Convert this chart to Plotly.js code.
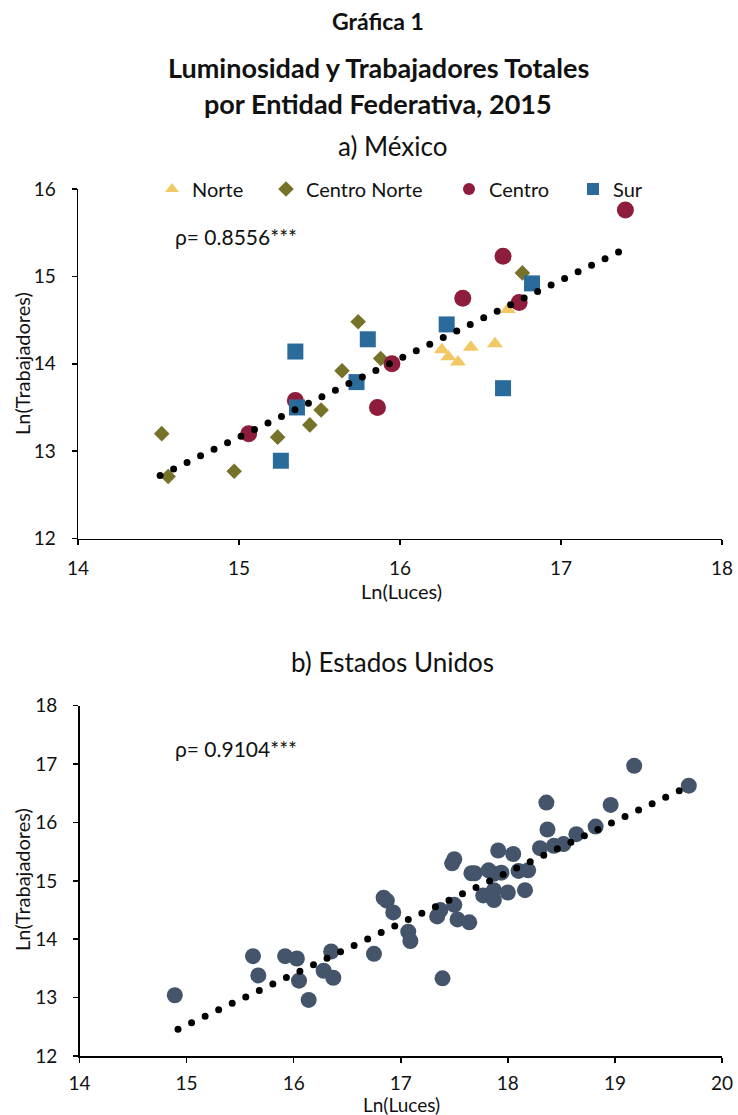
<!DOCTYPE html>
<html>
<head>
<meta charset="utf-8">
<script src="https://cdn.plot.ly/plotly-3.0.1.min.js"></script>
<style>
html,body{margin:0;padding:0;background:#fff;}
#chart{width:738px;height:1115px;}
.js-line{stroke-linecap:round !important;}
</style>
</head>
<body>
<div id="chart"></div>
<script>
// ---- Panel a) México ----
const norteX = [16.26, 16.30, 16.36, 16.44, 16.59, 16.67];
const norteY = [14.16, 14.08, 14.02, 14.19, 14.23, 14.62];

const centroNorteX = [14.52, 14.56, 14.97, 15.24, 15.44, 15.51, 15.64, 15.74, 15.88, 16.76];
const centroNorteY = [13.20, 12.71, 12.77, 13.16, 13.30, 13.47, 13.92, 14.48, 14.06, 15.04];

const centroX = [15.06, 15.35, 15.86, 15.95, 16.39, 16.64, 16.74, 17.40];
const centroY = [13.20, 13.58, 13.50, 14.00, 14.75, 15.23, 14.70, 15.76];

const surX = [15.35, 15.36, 15.26, 15.73, 15.80, 16.29, 16.64, 16.82];
const surY = [14.14, 13.50, 12.89, 13.79, 14.28, 14.45, 13.72, 14.92];

const trendMexX = [14.51, 17.36];
const trendMexY = [12.72, 15.28];

// ---- Panel b) Estados Unidos ----
const usaX = [14.89, 15.62, 15.67, 15.92, 16.03, 16.05, 16.14, 16.28, 16.35, 16.37,
              16.75, 16.84, 16.87, 16.93, 17.07, 17.09, 17.39, 17.34, 17.37, 17.48,
              17.50, 17.50, 17.53, 17.64, 17.66, 17.69, 17.77, 17.82, 17.87, 17.87,
              17.91, 17.94, 18.00, 18.05, 18.10, 18.16, 18.19, 18.30, 18.36, 18.37,
              18.43, 18.52, 18.64, 18.82, 18.96, 19.18, 19.69, 17.87];
const usaY = [13.04, 13.71, 13.38, 13.71, 13.67, 13.29, 12.96, 13.46, 13.79, 13.34,
              13.75, 14.71, 14.66, 14.46, 14.13, 13.97, 13.33, 14.39, 14.50, 15.30,
              15.37, 14.59, 14.34, 14.29, 15.13, 15.13, 14.75, 15.18, 14.84, 14.67,
              15.52, 15.14, 14.80, 15.46, 15.17, 14.84, 15.18, 15.56, 16.34, 15.88,
              15.60, 15.63, 15.80, 15.93, 16.30, 16.97, 16.63, 15.12];

const trendUsaX = [14.92, 19.70];
const trendUsaY = [12.46, 16.63];

const xTicksMex = [14, 15, 16, 17, 18];
const yTicksMex = [12, 13, 14, 15, 16];
const xTicksUsa = [14, 15, 16, 17, 18, 19, 20];
const yTicksUsa = [12, 13, 14, 15, 16, 17, 18];

const FONT = 'Lato, "Open Sans", sans-serif';
const TXT = '#111111';

const traces = [
  {x: norteX, y: norteY, name: 'Norte', type: 'scatter', mode: 'markers',
   xaxis: 'x', yaxis: 'y', legend: 'legend',
   marker: {symbol: 'triangle-up', size: 14, color: '#F2C865'}},
  {x: centroNorteX, y: centroNorteY, name: 'Centro Norte', type: 'scatter', mode: 'markers',
   xaxis: 'x', yaxis: 'y', legend: 'legend2',
   marker: {symbol: 'diamond', size: 12, color: '#77722A'}},
  {x: centroX, y: centroY, name: 'Centro', type: 'scatter', mode: 'markers',
   xaxis: 'x', yaxis: 'y', legend: 'legend3',
   marker: {symbol: 'circle', size: 17, color: '#8E1C3C'}},
  {x: surX, y: surY, name: 'Sur', type: 'scatter', mode: 'markers',
   xaxis: 'x', yaxis: 'y', legend: 'legend4',
   marker: {symbol: 'square', size: 16, color: '#2B6B9C'}},
  {x: trendMexX, y: trendMexY, type: 'scatter', mode: 'lines', showlegend: false,
   xaxis: 'x', yaxis: 'y', hoverinfo: 'skip',
   line: {color: '#000', width: 7, dash: '0px,15px'}},
  {x: usaX, y: usaY, name: 'Estados Unidos', type: 'scatter', mode: 'markers', showlegend: false,
   xaxis: 'x2', yaxis: 'y2',
   marker: {symbol: 'circle', size: 16, color: '#44546A'}},
  {x: trendUsaX, y: trendUsaY, type: 'scatter', mode: 'lines', showlegend: false,
   xaxis: 'x2', yaxis: 'y2', hoverinfo: 'skip',
   line: {color: '#000', width: 7, dash: '0px,15px'}}
];

function axis(extra) {
  return Object.assign({
    showgrid: false, zeroline: false, showline: true, linecolor: '#000', linewidth: 1.5,
    ticks: 'outside', ticklen: 5, tickwidth: 1.5, tickcolor: '#000',
    tickfont: {family: FONT, size: 19, color: TXT}, tickmode: 'array', fixedrange: true
  }, extra);
}

const W = 738, H = 1115;
const py = p => 1 - p / H;
const px = p => p / W;

function legendAt(xpx) {
  return {x: px(xpx), y: py(189), xanchor: 'left', yanchor: 'middle', orientation: 'h',
          font: {family: FONT, size: 20, color: TXT}, bgcolor: 'rgba(0,0,0,0)',
          itemsizing: 'constant', itemwidth: 30, borderwidth: 0};
}

function note(text, xpx, ypx, size, extra) {
  return Object.assign({text: text, x: px(xpx), y: py(ypx), xref: 'paper', yref: 'paper',
    xanchor: 'center', yanchor: 'middle', showarrow: false,
    font: {family: FONT, size: size, color: TXT}}, extra || {});
}

const layout = {
  width: W, height: H,
  margin: {l: 0, r: 0, t: 0, b: 0},
  paper_bgcolor: '#fff', plot_bgcolor: '#fff',
  font: {family: FONT, color: TXT},
  xaxis: axis({domain: [px(78), px(722)], range: [14, 18], tickvals: xTicksMex, anchor: 'y', ticklabelstandoff: 7}),
  yaxis: axis({domain: [py(538.5), py(189)], range: [12, 16], tickvals: yTicksMex, anchor: 'x', ticklabelstandoff: 12}),
  xaxis2: axis({domain: [px(79.5), px(722)], range: [14, 20], tickvals: xTicksUsa, anchor: 'y2', ticklabelstandoff: 5}),
  yaxis2: axis({domain: [py(1056), py(705.7)], range: [12, 18], tickvals: yTicksUsa, anchor: 'x2', ticklabelstandoff: 12}),
  legend: legendAt(152),
  legend2: legendAt(266),
  legend3: legendAt(449),
  legend4: legendAt(573),
  annotations: [
    note('<b>Gráfica 1</b>', 378, 21, 23),
    note('<b>Luminosidad y Trabajadores Totales</b>', 378, 67, 27),
    note('<b>por Entidad Federativa, 2015</b>', 378, 104, 27),
    note('a) México', 392, 146, 26),
    note('b) Estados Unidos', 392, 662, 26),
    note('ρ= 0.8556***', 173, 236, 21, {xanchor: 'left'}),
    note('ρ= 0.9104***', 173, 748, 21, {xanchor: 'left'}),
    note('Ln(Luces)', 401, 591, 20),
    note('Ln(Luces)', 401, 1104, 19),
    note('Ln(Trabajadores)', 22, 364, 20, {textangle: -90}),
    note('Ln(Trabajadores)', 22, 880, 20, {textangle: -90})
  ]
};

Plotly.newPlot('chart', traces, layout, {displayModeBar: false, staticPlot: true});
</script>
</body>
</html>
